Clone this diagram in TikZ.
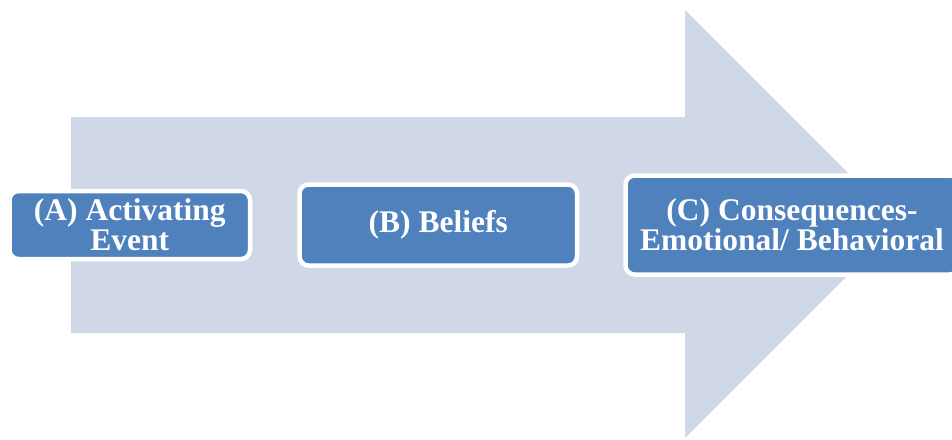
\documentclass[tikz,border=0pt]{standalone}
\usepackage{fontspec}
\setmainfont{Liberation Serif}
\definecolor{arrowfill}{HTML}{D0D8E8}
\definecolor{boxfill}{HTML}{4F81BD}
\tikzset{
  stepbox/.style={draw=white, line width=4.5pt, fill=boxfill, rounded corners=9pt,
    outer sep=0pt, inner sep=0pt, text=white, align=center,
    font=\fontsize{31.5}{30}\selectfont\bfseries},
}
\begin{document}
\begin{tikzpicture}[x=1pt,y=-1pt]
\useasboundingbox (0,0) rectangle (952,439);
\clip (0,0) rectangle (952,439);
\fill[arrowfill] (71,117) -- (685,117) -- (685,10) -- (899,224) -- (685,438) -- (685,333) -- (71,333) -- cycle;
\node[stepbox, minimum width=240.5pt, minimum height=68pt] (a) at (129.75,225) {(A) Activating\\Event};
\node[stepbox, minimum width=277.5pt, minimum height=81pt] (b) at (438.25,225) {(B) Beliefs};
\node[stepbox, minimum width=333pt, minimum height=99pt] (c) at (792,225) {(C) Consequences-\\Emotional/ Behavioral};
\end{tikzpicture}
\end{document}
